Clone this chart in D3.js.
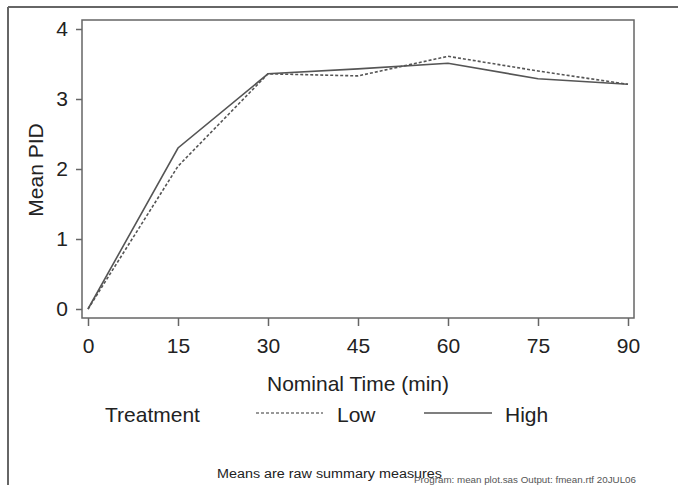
<!DOCTYPE html>
<html>
<head>
<meta charset="utf-8">
<script src="https://cdn.jsdelivr.net/npm/d3@7"></script>
<style>
  html, body { margin: 0; padding: 0; background: #fff; }
  svg { display: block; font-family: "Liberation Sans", Arial, sans-serif; }
</style>
</head>
<body>
<svg id="chart" width="678" height="485"></svg>
<script>
// ---- data ----
const times = [0, 15, 30, 45, 60, 75, 90];
const lowValues  = [0, 2.04, 3.36, 3.33, 3.61, 3.40, 3.21];
const highValues = [0, 2.30, 3.36, 3.43, 3.51, 3.29, 3.21];
const xTicks = [0, 15, 30, 45, 60, 75, 90];
const yTicks = [0, 1, 2, 3, 4];
const seriesNames = ["Low", "High"];
const legendTitle = "Treatment";
const xTitle = "Nominal Time (min)";
const yTitle = "Mean PID";
const footnote = "Means are raw summary measures";
const footnote2 = "Program: mean plot.sas  Output: fmean.rtf  20JUL06";

// ---- layout ----
const svg = d3.select("#chart");
const box = { left: 82, right: 634, top: 20, bottom: 318 };
const x = d3.scaleLinear().domain([0, 90]).range([88, 628]);
const y = d3.scaleLinear().domain([0, 4]).range([309, 29]);

const axisColor = "#666";
const textColor = "#222";

// outer frame (top and left edges)
svg.append("line").attr("x1", 8).attr("x2", 678).attr("y1", 7).attr("y2", 7)
  .attr("stroke", "#666").attr("stroke-width", 2);
svg.append("line").attr("x1", 8).attr("x2", 8).attr("y1", 7).attr("y2", 485)
  .attr("stroke", "#666").attr("stroke-width", 2);

// plot box
svg.append("rect")
  .attr("x", box.left).attr("y", box.top)
  .attr("width", box.right - box.left).attr("height", box.bottom - box.top)
  .attr("fill", "none").attr("stroke", axisColor).attr("stroke-width", 1.5);

// x axis
const xAxis = d3.axisBottom(x).tickValues(xTicks).tickFormat(d3.format("d"))
  .tickSize(8).tickPadding(12).tickSizeOuter(0);
const gx = svg.append("g").attr("transform", `translate(0,${box.bottom})`).call(xAxis);
gx.select(".domain").remove();
gx.selectAll(".tick line").attr("stroke", axisColor).attr("stroke-width", 1.5);
gx.selectAll(".tick text").attr("fill", textColor).attr("font-size", 21)
  .attr("font-family", "Liberation Sans, Arial, sans-serif");

// y axis
const yAxis = d3.axisLeft(y).tickValues(yTicks).tickFormat(d3.format("d"))
  .tickSize(6).tickPadding(8).tickSizeOuter(0);
const gy = svg.append("g").attr("transform", `translate(${box.left},0)`).call(yAxis);
gy.select(".domain").remove();
gy.selectAll(".tick line").attr("stroke", axisColor).attr("stroke-width", 1.5);
gy.selectAll(".tick text").attr("fill", textColor).attr("font-size", 21)
  .attr("font-family", "Liberation Sans, Arial, sans-serif");

// axis titles
svg.append("text").attr("x", 358).attr("y", 391).attr("text-anchor", "middle")
  .attr("font-size", 21).attr("fill", textColor).text(xTitle);
svg.append("text").attr("transform", "translate(43,170) rotate(-90)")
  .attr("text-anchor", "middle").attr("font-size", 21).attr("fill", textColor).text(yTitle);

// lines
const line = d3.line().x(d => x(d[0])).y(d => y(d[1]));
const lowData = times.map((t, i) => [t, lowValues[i]]);
const highData = times.map((t, i) => [t, highValues[i]]);

svg.append("path").datum(lowData).attr("d", line)
  .attr("fill", "none").attr("stroke", "#555").attr("stroke-width", 1.6)
  .attr("stroke-dasharray", "3,2");
svg.append("path").datum(highData).attr("d", line)
  .attr("fill", "none").attr("stroke", "#555").attr("stroke-width", 1.6);

// legend
svg.append("text").attr("x", 105).attr("y", 422).attr("font-size", 21)
  .attr("fill", textColor).text(legendTitle);
svg.append("line").attr("x1", 256).attr("x2", 323).attr("y1", 413).attr("y2", 413)
  .attr("stroke", "#777").attr("stroke-width", 1.4).attr("stroke-dasharray", "3,2");
svg.append("text").attr("x", 337).attr("y", 422).attr("font-size", 21)
  .attr("fill", textColor).text(seriesNames[0]);
svg.append("line").attr("x1", 424).attr("x2", 492).attr("y1", 413).attr("y2", 413)
  .attr("stroke", "#555").attr("stroke-width", 1.6);
svg.append("text").attr("x", 505).attr("y", 422).attr("font-size", 21)
  .attr("fill", textColor).text(seriesNames[1]);

// footnotes
svg.append("text").attr("x", 217).attr("y", 478).attr("font-size", 12)
  .attr("textLength", 225).attr("lengthAdjust", "spacingAndGlyphs")
  .attr("fill", textColor).text(footnote);
svg.append("text").attr("x", 414).attr("y", 483).attr("font-size", 9)
  .attr("textLength", 222).attr("lengthAdjust", "spacingAndGlyphs")
  .attr("fill", "#555").text(footnote2);
</script>
</body>
</html>
